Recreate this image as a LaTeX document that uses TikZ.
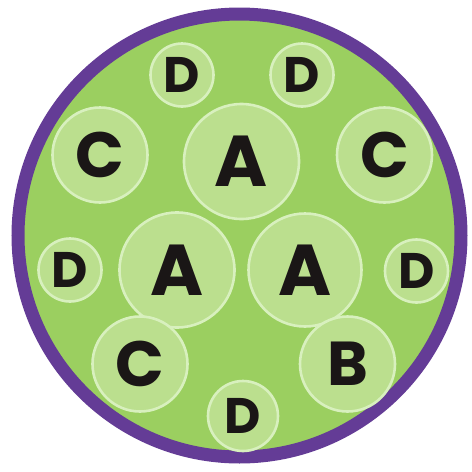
\documentclass[tikz,border=0pt]{standalone}
\usepackage{fontspec}
\setmainfont{Poppins}
\definecolor{bggreen}{RGB}{155,207,96}
\definecolor{cfill}{RGB}{187,223,142}
\definecolor{cline}{RGB}{216,240,190}
\definecolor{ring}{RGB}{100,60,150}
\definecolor{ink}{RGB}{26,22,22}
\begin{document}
\begin{tikzpicture}[x=1pt,y=-1pt,
  bubble/.style={circle,fill=cfill,draw=cline,line width=2.6pt,inner sep=0pt},
  letter/.style={inner sep=0pt,text=ink,font=\bfseries\fontsize{#1}{#1}\selectfont},
  letter/.default=60]
\useasboundingbox (0,0) rectangle (472,472);
\fill[white] (0,0) rectangle (472,472);
\node[circle,fill=bggreen,draw=ring,line width=13pt,minimum size=443pt,inner sep=0pt] (outer) at (239.5,235.5) {};
% bubbles
\node[bubble,minimum size=63pt] (d1) at (182,75) {};
\node[bubble,minimum size=63pt] (d2) at (302,75) {};
\node[bubble,minimum size=95pt] (c1) at (100,155) {};
\node[bubble,minimum size=115pt] (a1) at (241.5,161.5) {};
\node[bubble,minimum size=95pt] (c2) at (384.5,155) {};
\node[bubble,minimum size=63pt] (d3) at (70,270) {};
\node[bubble,minimum size=115pt] (a2) at (177,270) {};
\node[bubble,minimum size=113pt] (a3) at (305,270) {};
\node[bubble,minimum size=63pt] (d4) at (416.5,271) {};
\node[bubble,minimum size=95pt] (c3) at (140,364) {};
\node[bubble,minimum size=95pt] (b1) at (347.5,364) {};
\node[bubble,minimum size=70pt] (d5) at (243,416) {};
% letters
\node[letter=50] (td1) at (d1) {D};
\node[letter=50] (td2) at (d2) {D};
\node[letter=64] (tc1) at (c1) {C};
\node[letter=72] (ta1) at (a1) {A};
\node[letter=64] (tc2) at (c2) {C};
\node[letter=50] (td3) at (d3) {D};
\node[letter=72] (ta2) at (a2) {A};
\node[letter=72] (ta3) at (a3) {A};
\node[letter=50] (td4) at (d4) {D};
\node[letter=64] (tc3) at (c3) {C};
\node[letter=62] (tb1) at (b1) {B};
\node[letter=50] (td5) at (d5) {D};
\end{tikzpicture}
\end{document}
